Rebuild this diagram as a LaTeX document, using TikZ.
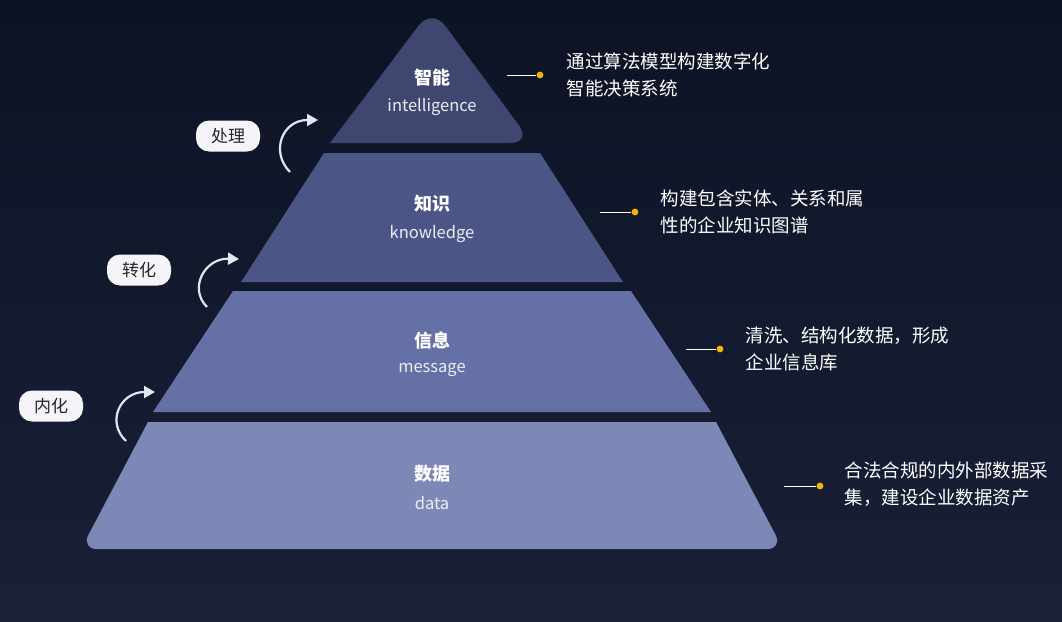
\documentclass[tikz,border=0pt]{standalone}
\usepackage{fontspec}
\setmainfont{Noto Sans CJK SC}
\usetikzlibrary{arrows.meta}
\definecolor{bg}{HTML}{0D1324}
\definecolor{lA}{HTML}{3F4770}
\definecolor{lB}{HTML}{4B5686}
\definecolor{lC}{HTML}{6571A6}
\definecolor{lD}{HTML}{7E88B6}
\definecolor{dot}{HTML}{F2B705}
\tikzset{
  zh/.style={text=white,font=\fontsize{18}{20}\selectfont\bfseries},
  en/.style={text=white!85!lD,font=\fontsize{16.5}{18}\selectfont},
  desc/.style={text=white,font=\fontsize{18.5}{27}\selectfont,align=left,anchor=west},
  pill/.style={fill=white!92!lD,rounded corners=13pt,minimum width=64pt,minimum height=31pt,font=\fontsize{17}{18}\selectfont,text=black!85},
  cur/.style={draw=white!78!lD,line width=2.2pt,-{Triangle[length=11pt,width=12pt]}},
  lead/.style={draw=white!80,line width=0.8pt}
}
\begin{document}
\begin{tikzpicture}[x=1pt,y=-1pt]
\useasboundingbox (0,0) rectangle (1062,621);
\shade[top color=bg,bottom color=bg!80!lB] (0,0) rectangle (1062,621);
% layers
\fill[lA,rounded corners=22pt] (330,143) -- (432,8) -- (532,143) [sharp corners] -- cycle;
\fill[lB] (324,153) -- (540,153) -- (623,282) -- (241,282) -- cycle;
\fill[lC] (233,291) -- (631,291) -- (711,412) -- (153,412) -- cycle;
\fill[lD] (148,422) -- (716,422) [rounded corners=16pt] -- (783,549) -- (81,549) [sharp corners] -- cycle;
% labels
\node[zh] (z1) at (432,78) {智能};
\node[en] (e1) at (432,107) {intelligence};
\node[zh] (z2) at (432,204) {知识};
\node[en] (e2) at (432,234) {knowledge};
\node[zh] (z3) at (432,341) {信息};
\node[en] (e3) at (432,370) {message};
\node[zh] (z4) at (432,474) {数据};
\node[en] (e4) at (432,503) {data};
% pills and arrows
\node[pill] (p1) at (228,136) {处理};
\node[pill] (p2) at (139,270) {转化};
\node[pill] (p3) at (51,406) {内化};
\coordinate (a1s) at (290,172); \coordinate (a1e) at (318,120);
\coordinate (a2s) at (207,307); \coordinate (a2e) at (239,259);
\coordinate (a3s) at (126,441); \coordinate (a3e) at (155,392);
\draw[cur] (a1s) .. controls (270,152) and (282,120) .. (a1e);
\draw[cur] (a2s) .. controls (188,288) and (205,258) .. (a2e);
\draw[cur] (a3s) .. controls (106,422) and (120,392) .. (a3e);
% descriptions
\coordinate (l1) at (507,75); \node[circle,fill=dot,inner sep=2.4pt] (d1) at (540,75) {};
\coordinate (l2) at (600,212); \node[circle,fill=dot,inner sep=2.4pt] (d2) at (635,212) {};
\coordinate (l3) at (686,349); \node[circle,fill=dot,inner sep=2.4pt] (d3) at (720,349) {};
\coordinate (l4) at (784,486); \node[circle,fill=dot,inner sep=2.4pt] (d4) at (820,486) {};
\draw[lead] (l1) -- (d1); \draw[lead] (l2) -- (d2); \draw[lead] (l3) -- (d3); \draw[lead] (l4) -- (d4);
\node[desc] (t1) at (563,75) {通过算法模型构建数字化\\智能决策系统};
\node[desc] (t2) at (657,212) {构建包含实体、关系和属\\性的企业知识图谱};
\node[desc] (t3) at (742,349) {清洗、结构化数据，形成\\企业信息库};
\node[desc] (t4) at (841,484) {合法合规的内外部数据采\\集，建设企业数据资产};
\end{tikzpicture}
\end{document}
